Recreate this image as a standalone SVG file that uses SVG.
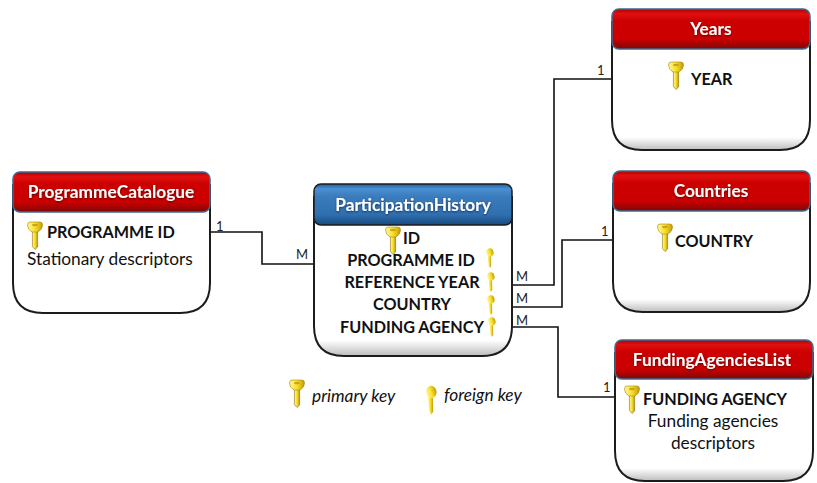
<svg xmlns="http://www.w3.org/2000/svg" width="817" height="483" viewBox="0 0 817 483">
<style>
text{font-family:Lato,"Open Sans","Liberation Sans",sans-serif;fill:#111}
.t{font-size:17.3px;font-weight:700;fill:#fff;text-anchor:middle;filter:url(#ts)}
.b{font-size:16.2px;font-weight:700}
.r{font-size:17.3px}
.i{font-size:17.3px;font-style:italic}
.c{font-size:13px;fill:#222}
.m{text-anchor:middle}
.body{fill:url(#bodyg);stroke:#1c1c1c;stroke-width:2}
.plain{fill:#fff;stroke:#1c1c1c;stroke-width:2}
.red{fill:url(#redg);stroke:#3f6a8f;stroke-width:1.5}
.blue{fill:url(#blueg);stroke:#1c1c1c;stroke-width:1.5}
.conn{fill:none;stroke:#111;stroke-width:1.6}
</style>
<defs>
<filter id="ts" x="-10%" y="-30%" width="120%" height="160%"><feDropShadow dx="0" dy="1" stdDeviation="0.8" flood-color="#000" flood-opacity="0.55"/></filter>
<linearGradient id="bodyg" x1="0" y1="0" x2="0" y2="1"><stop offset="0" stop-color="#fff"/><stop offset="0.9" stop-color="#fff"/><stop offset="1" stop-color="#bdbdbd"/></linearGradient>
<linearGradient id="redg" x1="0" y1="0" x2="0" y2="1"><stop offset="0" stop-color="#b00000"/><stop offset="0.12" stop-color="#e01010"/><stop offset="0.3" stop-color="#cc0000"/><stop offset="0.75" stop-color="#cc0000"/><stop offset="1" stop-color="#7c0808"/></linearGradient>
<linearGradient id="blueg" x1="0" y1="0" x2="0" y2="1"><stop offset="0" stop-color="#1f5f9f"/><stop offset="0.12" stop-color="#4a90d4"/><stop offset="0.3" stop-color="#3a7cbc"/><stop offset="0.75" stop-color="#2f6fb0"/><stop offset="1" stop-color="#174a7c"/></linearGradient>
<linearGradient id="gold" x1="0" y1="0" x2="1" y2="0"><stop offset="0" stop-color="#fff7a0"/><stop offset="0.5" stop-color="#f8df2a"/><stop offset="1" stop-color="#c09a0c"/></linearGradient>
<g id="key"><path d="M-2.6 9V24.5L0 27.5 2.6 25V9Z" fill="url(#gold)" stroke="#8a6c06" stroke-width="0.6"/><path d="M-5 0H5Q7.5 0 7.5 3 7.5 7.5 3 10H-3Q-7.5 7.5-7.5 3-7.5 0-5 0Z" fill="url(#gold)" stroke="#a8860a" stroke-width="0.6"/><ellipse cx="0" cy="3" rx="3" ry="1.3" fill="#c9a612"/></g>
<g id="fkey"><path d="M-1.5 6 -0.3 17 0.8 19 2.2 17 2 6Z" fill="url(#gold)"/><ellipse cx="0" cy="3.5" rx="3.6" ry="4.2" fill="url(#gold)" transform="rotate(-15)"/></g>
</defs>
<g id="connectors">
<path class="conn" d="M210 232H262V264H314"/>
<path class="conn" d="M512 285H554V79H612"/>
<path class="conn" d="M512 307H562V240H613"/>
<path class="conn" d="M512 327H558V397H615"/>
<text class="c" x="216" y="231">1</text>
<text class="c" x="296" y="259">M</text>
<text class="c" x="516" y="281">M</text>
<text class="c" x="516" y="303">M</text>
<text class="c" x="516" y="325">M</text>
<text class="c" x="597" y="75">1</text>
<text class="c" x="601" y="236">1</text>
<text class="c" x="603" y="392">1</text>
</g>
<g id="ProgrammeCatalogue">
<path class="plain" d="M13 185V283Q13 313 43 313H180Q210 313 210 283V185Z"/>
<rect class="red" x="13" y="172" width="197" height="40" rx="7"/>
<text class="t" x="111" y="198">ProgrammeCatalogue</text>
<use href="#key" x="35" y="222"/>
<text class="b" x="47" y="238">PROGRAMME ID</text>
<text class="r" x="27" y="265">Stationary descriptors</text>
</g>
<g id="ParticipationHistory">
<path class="body" d="M314 197V326Q314 356 344 356H482Q512 356 512 326V197Z"/>
<rect class="blue" x="314" y="184" width="198" height="41" rx="7"/>
<text class="t" x="413" y="211">ParticipationHistory</text>
<use href="#key" x="393" y="227"/>
<text class="b" x="403" y="244">ID</text>
<text class="b m" x="411" y="266">PROGRAMME ID</text>
<text class="b m" x="412" y="288">REFERENCE YEAR</text>
<text class="b m" x="412" y="310">COUNTRY</text>
<text class="b m" x="412" y="333">FUNDING AGENCY</text>
<use href="#fkey" x="489" y="249"/>
<use href="#fkey" x="490" y="273"/>
<use href="#fkey" x="490" y="296"/>
<use href="#fkey" x="491" y="318"/>
</g>
<g id="Years">
<path class="body" d="M612 22V120Q612 150 642 150H780Q810 150 810 120V22Z"/>
<rect class="red" x="612" y="9" width="198" height="40" rx="7"/>
<text class="t" x="711" y="35">Years</text>
<use href="#key" x="676" y="62"/>
<text class="b" x="691" y="85">YEAR</text>
</g>
<g id="Countries">
<path class="body" d="M613 184V282Q613 312 643 312H780Q810 312 810 282V184Z"/>
<rect class="red" x="613" y="171" width="197" height="40" rx="7"/>
<text class="t" x="711" y="197">Countries</text>
<use href="#key" x="665" y="224"/>
<text class="b" x="675" y="247">COUNTRY</text>
</g>
<g id="FundingAgenciesList">
<path class="body" d="M615 353V451Q615 481 645 481H783Q813 481 813 451V353Z"/>
<rect class="red" x="615" y="340" width="198" height="39" rx="7"/>
<text class="t" x="712" y="366">FundingAgenciesList</text>
<use href="#key" x="632" y="386"/>
<text class="b" x="643" y="405">FUNDING AGENCY</text>
<text class="r m" x="713" y="427">Funding agencies</text>
<text class="r m" x="713" y="449">descriptors</text>
</g>
<g id="legend">
<use href="#key" x="297" y="380"/>
<text class="i" x="312" y="402">primary key</text>
<use href="#fkey" transform="translate(430 387) scale(1.45)"/>
<text class="i" x="444" y="401">foreign key</text>
</g>
</svg>
